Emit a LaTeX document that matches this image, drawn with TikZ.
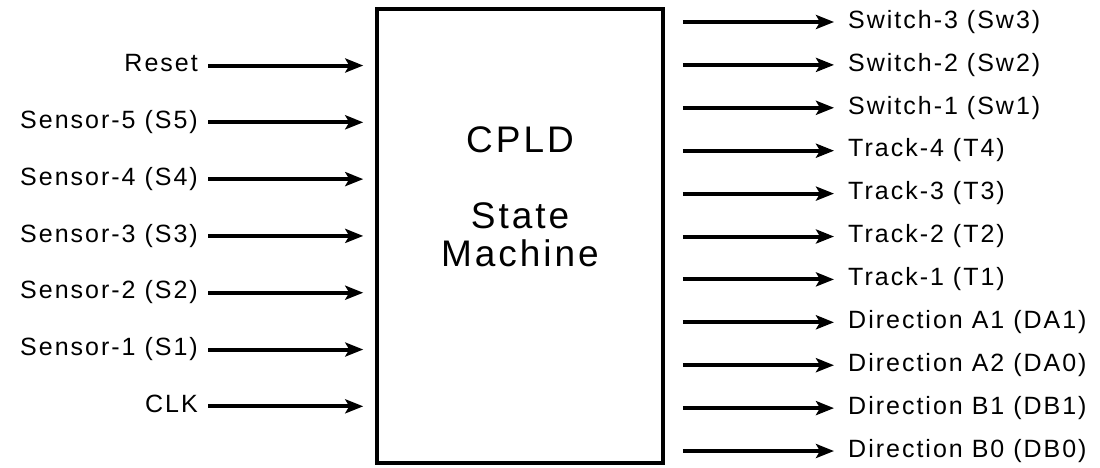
\documentclass[tikz,border=0pt]{standalone}
\usepackage{fontspec}
\setmainfont{Liberation Sans}[LetterSpace=8]
\usetikzlibrary{arrows.meta}

\begin{document}
\begin{tikzpicture}[x=1pt, y=-1pt,
    sig/.style={line width=4pt, -{Stealth[length=18pt, width=14pt, inset=4pt]}},
    lbl/.style={font=\fontsize{25}{29}\selectfont, inner sep=0pt, text height=18pt, text depth=5.5pt}]
\useasboundingbox (0,0) rectangle (1100,467);
% the state machine block
\node[draw, line width=3.5pt, minimum width=286pt, minimum height=454pt, inner sep=0pt] (cpld) at (520,236) {};
\node[align=center, inner sep=0pt, font=\fontsize{37}{38}\selectfont] (title) at (520,197)
    {CPLD\\[38pt]State\\Machine};
% inputs
\node[lbl, anchor=east] (reset) at (198,65.5) {Reset};
\node[lbl, anchor=east] (s5) at (198,122.3) {Sensor-5 (S5)};
\node[lbl, anchor=east] (s4) at (198,179.1) {Sensor-4 (S4)};
\node[lbl, anchor=east] (s3) at (198,235.9) {Sensor-3 (S3)};
\node[lbl, anchor=east] (s2) at (198,292.7) {Sensor-2 (S2)};
\node[lbl, anchor=east] (s1) at (198,349.5) {Sensor-1 (S1)};
\node[lbl, anchor=east] (clk) at (198,406.3) {CLK};
\draw[sig, shorten <=10pt, shorten >=12pt] (reset.east) -- (reset.east -| cpld.west);
\draw[sig, shorten <=10pt, shorten >=12pt] (s5.east) -- (s5.east -| cpld.west);
\draw[sig, shorten <=10pt, shorten >=12pt] (s4.east) -- (s4.east -| cpld.west);
\draw[sig, shorten <=10pt, shorten >=12pt] (s3.east) -- (s3.east -| cpld.west);
\draw[sig, shorten <=10pt, shorten >=12pt] (s2.east) -- (s2.east -| cpld.west);
\draw[sig, shorten <=10pt, shorten >=12pt] (s1.east) -- (s1.east -| cpld.west);
\draw[sig, shorten <=10pt, shorten >=12pt] (clk.east) -- (clk.east -| cpld.west);
% outputs
\node[lbl, anchor=west] (sw3) at (848,22) {Switch-3 (Sw3)};
\node[lbl, anchor=west] (sw2) at (848,64.9) {Switch-2 (Sw2)};
\node[lbl, anchor=west] (sw1) at (848,107.8) {Switch-1 (Sw1)};
\node[lbl, anchor=west] (t4) at (848,150.7) {Track-4 (T4)};
\node[lbl, anchor=west] (t3) at (848,193.6) {Track-3 (T3)};
\node[lbl, anchor=west] (t2) at (848,236.5) {Track-2 (T2)};
\node[lbl, anchor=west] (t1) at (848,279.4) {Track-1 (T1)};
\node[lbl, anchor=west] (da1) at (848,322.3) {Direction A1 (DA1)};
\node[lbl, anchor=west] (da0) at (848,365.2) {Direction A2 (DA0)};
\node[lbl, anchor=west] (db1) at (848,408.1) {Direction B1 (DB1)};
\node[lbl, anchor=west] (db0) at (848,451) {Direction B0 (DB0)};
\draw[sig, shorten <=18pt, shorten >=14pt] (sw3.west -| cpld.east) -- (sw3.west);
\draw[sig, shorten <=18pt, shorten >=14pt] (sw2.west -| cpld.east) -- (sw2.west);
\draw[sig, shorten <=18pt, shorten >=14pt] (sw1.west -| cpld.east) -- (sw1.west);
\draw[sig, shorten <=18pt, shorten >=14pt] (t4.west -| cpld.east) -- (t4.west);
\draw[sig, shorten <=18pt, shorten >=14pt] (t3.west -| cpld.east) -- (t3.west);
\draw[sig, shorten <=18pt, shorten >=14pt] (t2.west -| cpld.east) -- (t2.west);
\draw[sig, shorten <=18pt, shorten >=14pt] (t1.west -| cpld.east) -- (t1.west);
\draw[sig, shorten <=18pt, shorten >=14pt] (da1.west -| cpld.east) -- (da1.west);
\draw[sig, shorten <=18pt, shorten >=14pt] (da0.west -| cpld.east) -- (da0.west);
\draw[sig, shorten <=18pt, shorten >=14pt] (db1.west -| cpld.east) -- (db1.west);
\draw[sig, shorten <=18pt, shorten >=14pt] (db0.west -| cpld.east) -- (db0.west);
\end{tikzpicture}
\end{document}
